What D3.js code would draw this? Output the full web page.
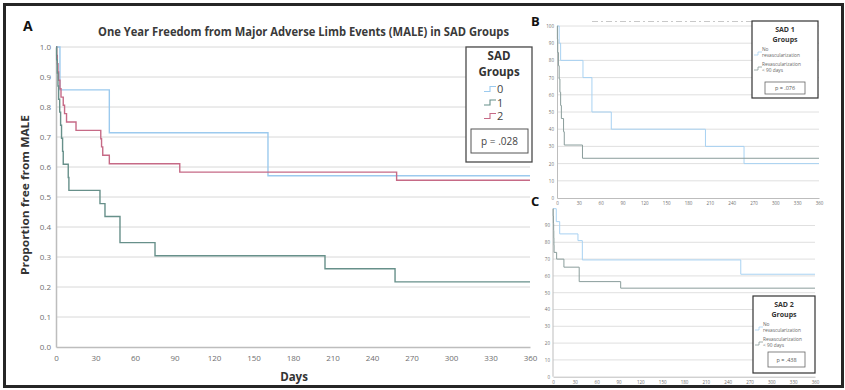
<!DOCTYPE html>
<html>
<head>
<meta charset="utf-8">
<script src="https://cdn.jsdelivr.net/npm/d3@7"></script>
<style>
  html, body { margin: 0; padding: 0; background: #fff; }
  svg { display: block; font-family: "Open Sans", "Noto Sans", sans-serif; }
</style>
</head>
<body>
<svg id="chart" width="845" height="390"></svg>
<script>
// ---- Panel A: Kaplan-Meier freedom from MALE by SAD group ----
const daysTicks = [0, 30, 60, 90, 120, 150, 180, 210, 240, 270, 300, 330, 360];
const propTicks = [0, 0.1, 0.2, 0.3, 0.4, 0.5, 0.6, 0.7, 0.8, 0.9, 1.0];
const groupNames = ["0", "1", "2"];
const groupColors = ["#9ccaee", "#67908a", "#c66a86"];

// [day, proportion free] at each step
const sadGroup0 = [[0, 1], [3, 0.857], [40.5, 0.714], [161, 0.571], [360, 0.571]];
const sadGroup1 = [[0, 1], [0.5, 0.957], [1, 0.913], [1.5, 0.870], [2, 0.826], [2.8, 0.783],
  [3.5, 0.739], [4.2, 0.696], [5, 0.652], [5.5, 0.609], [9.3, 0.565], [9.8, 0.522],
  [33.4, 0.478], [37.2, 0.435], [48.6, 0.348], [75.2, 0.304], [204.3, 0.261],
  [257.5, 0.217], [360, 0.217]];
const sadGroup2 = [[0, 1], [0.5, 0.972], [1, 0.944], [1.5, 0.917], [2, 0.889], [3, 0.861],
  [3.8, 0.833], [5.5, 0.806], [6.5, 0.778], [8, 0.75], [15.2, 0.722], [34, 0.694],
  [34.6, 0.667], [35.5, 0.639], [40.5, 0.611], [94, 0.583], [258.7, 0.556], [360, 0.556]];
const pValueA = "p = .028";

// ---- Panel B: SAD 1 by revascularization ----
const pctTicksB = [0, 10, 20, 30, 40, 50, 60, 70, 80, 90, 100];
const sad1NoRevasc = [[0, 100], [3, 90], [5, 80], [35.7, 70], [48, 50], [74.6, 40],
  [204, 30], [257, 20], [360, 20]];
const sad1Revasc = [[0, 100], [0.5, 92.3], [1, 84.6], [2, 76.9], [3, 69.2], [4, 61.5],
  [5, 53.8], [6, 46.2], [9, 38.5], [10, 30.8], [35, 23.1], [360, 23.1]];
const pValueB = "p = .076";

// ---- Panel C: SAD 2 by revascularization ----
const pctTicksC = [0, 10, 20, 30, 40, 50, 60, 70, 80, 90];
const sad2NoRevasc = [[0, 100], [4.5, 92.3], [9.2, 85], [34.3, 81], [40.3, 69.5],
  [258, 61], [360, 61]];
const sad2Revasc = [[0, 100], [0.3, 95.7], [0.6, 91.3], [0.9, 87], [1.1, 82.6], [1.3, 78.3],
  [1.5, 74], [5, 70], [15, 65.2], [36, 56.6], [93, 52.7], [360, 52.7]];
const pValueC = "p = .438";

const revascNames = [["No", "revascularization"], ["Revascularization", "< 90 days"]];
const revascColors = ["#a8d2f2", "#8a9d9b"];

const svg = d3.select("#chart");

// outer frame
svg.append("rect").attr("x", 4.5).attr("y", 4.5).attr("width", 838).attr("height", 382)
  .attr("fill", "none").attr("stroke", "#262626").attr("stroke-width", 3);

function kmPanel(cfg) {
  const x = d3.scaleLinear().domain([0, 360]).range([cfg.x0, cfg.x1]);
  const y = d3.scaleLinear().domain(cfg.yDomain).range([cfg.y0, cfg.y1]);
  const g = svg.append("g");

  // horizontal gridlines
  g.selectAll("line.grid").data(cfg.yTicks.filter(d => d > cfg.yDomain[0]))
    .join("line").attr("class", "grid")
    .attr("x1", cfg.x0).attr("x2", cfg.x1)
    .attr("y1", d => y(d)).attr("y2", d => y(d))
    .attr("stroke", "#d8d8d8").attr("stroke-width", cfg.gridW);

  // axes
  const yAxis = d3.axisLeft(y).tickValues(cfg.yTicks).tickFormat(cfg.yFmt).tickSize(0).tickPadding(cfg.pad);
  const xAxis = d3.axisBottom(x).tickValues(daysTicks).tickSize(0).tickPadding(cfg.xpad);
  const ya = g.append("g").attr("transform", `translate(${cfg.x0},0)`).call(yAxis);
  const xa = g.append("g").attr("transform", `translate(0,${cfg.y0})`).call(xAxis);
  [ya, xa].forEach(a => {
    a.select(".domain").attr("stroke", "#bdbdbd").attr("stroke-width", cfg.axisW);
    a.selectAll("text").attr("fill", "#6f6f6f").attr("font-size", cfg.tickFs)
      .attr("font-family", "'Open Sans', sans-serif");
  });
  if (cfg.yTop !== undefined) {
    ya.select(".domain").attr("d", `M0,${y(cfg.yTop)}V${cfg.y0}`);
  }

  const line = d3.line().x(d => x(d[0])).y(d => y(d[1])).curve(d3.curveStepAfter);
  cfg.series.forEach((s, i) => {
    g.append("path").datum(s).attr("d", line)
      .attr("fill", "none").attr("stroke", cfg.colors[i]).attr("stroke-width", cfg.lineW);
  });
  return { x, y, g };
}

// Panel A
kmPanel({
  x0: 56, x1: 530, y0: 347, y1: 47, yDomain: [0, 1], yTicks: propTicks,
  yFmt: d3.format(".1f"), pad: 5, xpad: 8, tickFs: 8, gridW: 1, axisW: 1.5, lineW: 1.4,
  series: [sadGroup0, sadGroup2, sadGroup1], colors: [groupColors[0], groupColors[2], groupColors[1]]
});

// Panel B
kmPanel({
  x0: 557, x1: 819, y0: 198, y1: 26, yDomain: [0, 100], yTicks: pctTicksB,
  yFmt: d3.format("d"), pad: 3, xpad: 3.5, tickFs: 4.5, gridW: 0.8, axisW: 1, lineW: 1,
  series: [sad1NoRevasc, sad1Revasc], colors: revascColors
});

// Panel C
kmPanel({
  x0: 553, x1: 815, y0: 376.7, y1: 208.7, yDomain: [0, 100], yTicks: pctTicksC, yTop: 100,
  yFmt: d3.format("d"), pad: 3, xpad: 4, tickFs: 4.5, gridW: 0.8, axisW: 1, lineW: 1,
  series: [sad2NoRevasc, sad2Revasc], colors: revascColors
});

// faint header rule above panel B
svg.append("line").attr("x1", 592).attr("x2", 818).attr("y1", 21.5).attr("y2", 21.5)
  .attr("stroke", "#c8c8c8").attr("stroke-width", 1.2).attr("stroke-dasharray", "6,3,2,3");

// Titles and panel letters
const txt = (x, y, s, o = {}) => svg.append("text").attr("x", x).attr("y", y).text(s)
  .attr("font-size", o.fs || 10).attr("font-weight", o.fw || "normal")
  .attr("fill", o.fill || "#333").attr("text-anchor", o.anchor || "start");

// two-line heading drawn as one text element
function heading(x, y, lines, fs, lh) {
  const t = svg.append("text").attr("x", x).attr("y", y).attr("text-anchor", "middle")
    .attr("font-size", fs).attr("font-weight", "bold").attr("fill", "#333");
  lines.forEach((l, i) => t.append("tspan").attr("x", x).attr("dy", i === 0 ? 0 : lh).text(l));
}

txt(23, 31, "A", { fs: 14, fw: "bold", fill: "#111" });
txt(531, 26, "B", { fs: 13, fw: "bold", fill: "#111" });
txt(531, 206, "C", { fs: 13, fw: "bold", fill: "#111" });

txt(303.5, 36, "One Year Freedom from Major Adverse Limb Events (MALE) in SAD Groups",
  { fs: 11.5, fw: "bold", anchor: "middle", fill: "#3a3a3a" })
  .attr("textLength", 411).attr("lengthAdjust", "spacingAndGlyphs");

svg.append("text").attr("transform", "translate(29,195) rotate(-90)")
  .attr("text-anchor", "middle").attr("font-size", 11).attr("font-weight", "bold")
  .attr("fill", "#333").text("Proportion free from MALE")
  .attr("textLength", 160).attr("lengthAdjust", "spacingAndGlyphs");

txt(294, 381, "Days", { fs: 11.5, fw: "bold", anchor: "middle", fill: "#333" });

// step glyph used in legends
function stepGlyph(x, y, w, h, color, sw) {
  svg.append("path")
    .attr("d", `M${x},${y + h / 2}H${x + w / 2}V${y - h / 2}H${x + w}`)
    .attr("fill", "none").attr("stroke", color).attr("stroke-width", sw);
}

// Legend A
svg.append("rect").attr("x", 466).attr("y", 47).attr("width", 66).attr("height", 115)
  .attr("fill", "#fff").attr("stroke", "#4a4a4a").attr("stroke-width", 1.3);
heading(499, 60, ["SAD", "Groups"], 11.5, 16.2);
groupNames.forEach((n, i) => {
  const cy = 89 + i * 13.5;
  stepGlyph(484, cy, 12, 5, groupColors[i], 1.1);
  txt(497, cy + 4, n, { fs: 11, fill: "#444" });
});
svg.append("rect").attr("x", 471).attr("y", 129).attr("width", 57).attr("height", 24)
  .attr("fill", "none").attr("stroke", "#555").attr("stroke-width", 1);
txt(499.5, 145, pValueA, { fs: 10, anchor: "middle", fill: "#444" });

// Legends B and C
function smallLegend(bx, by, bw, bh, title, pText, pbox) {
  svg.append("rect").attr("x", bx).attr("y", by).attr("width", bw).attr("height", bh)
    .attr("fill", "#fff").attr("stroke", "#333").attr("stroke-width", 1.2);
  heading(bx + bw / 2, by + 11, [title, "Groups"], 7, 9.6);
  revascNames.forEach((lines, i) => {
    const top = by + 30 + i * 15;
    stepGlyph(bx + 2, top + 2.5, 8, 3, revascColors[i], 0.8);
    lines.forEach((l, j) => txt(bx + 10, top + j * 5.5, l, { fs: 4.8, fill: "#666" }));
  });
  svg.append("rect").attr("x", pbox[0]).attr("y", pbox[1]).attr("width", pbox[2]).attr("height", pbox[3])
    .attr("fill", "none").attr("stroke", "#666").attr("stroke-width", 0.8);
  txt(pbox[0] + pbox[2] / 2, pbox[1] + pbox[3] / 2 + 2, pText, { fs: 5.5, anchor: "middle", fill: "#555" });
}
smallLegend(752, 21, 66, 77, "SAD 1", pValueB, [765, 82, 40, 12]);
smallLegend(753, 296, 62, 77, "SAD 2", pValueC, [768, 352, 37, 15]);
</script>
</body>
</html>
